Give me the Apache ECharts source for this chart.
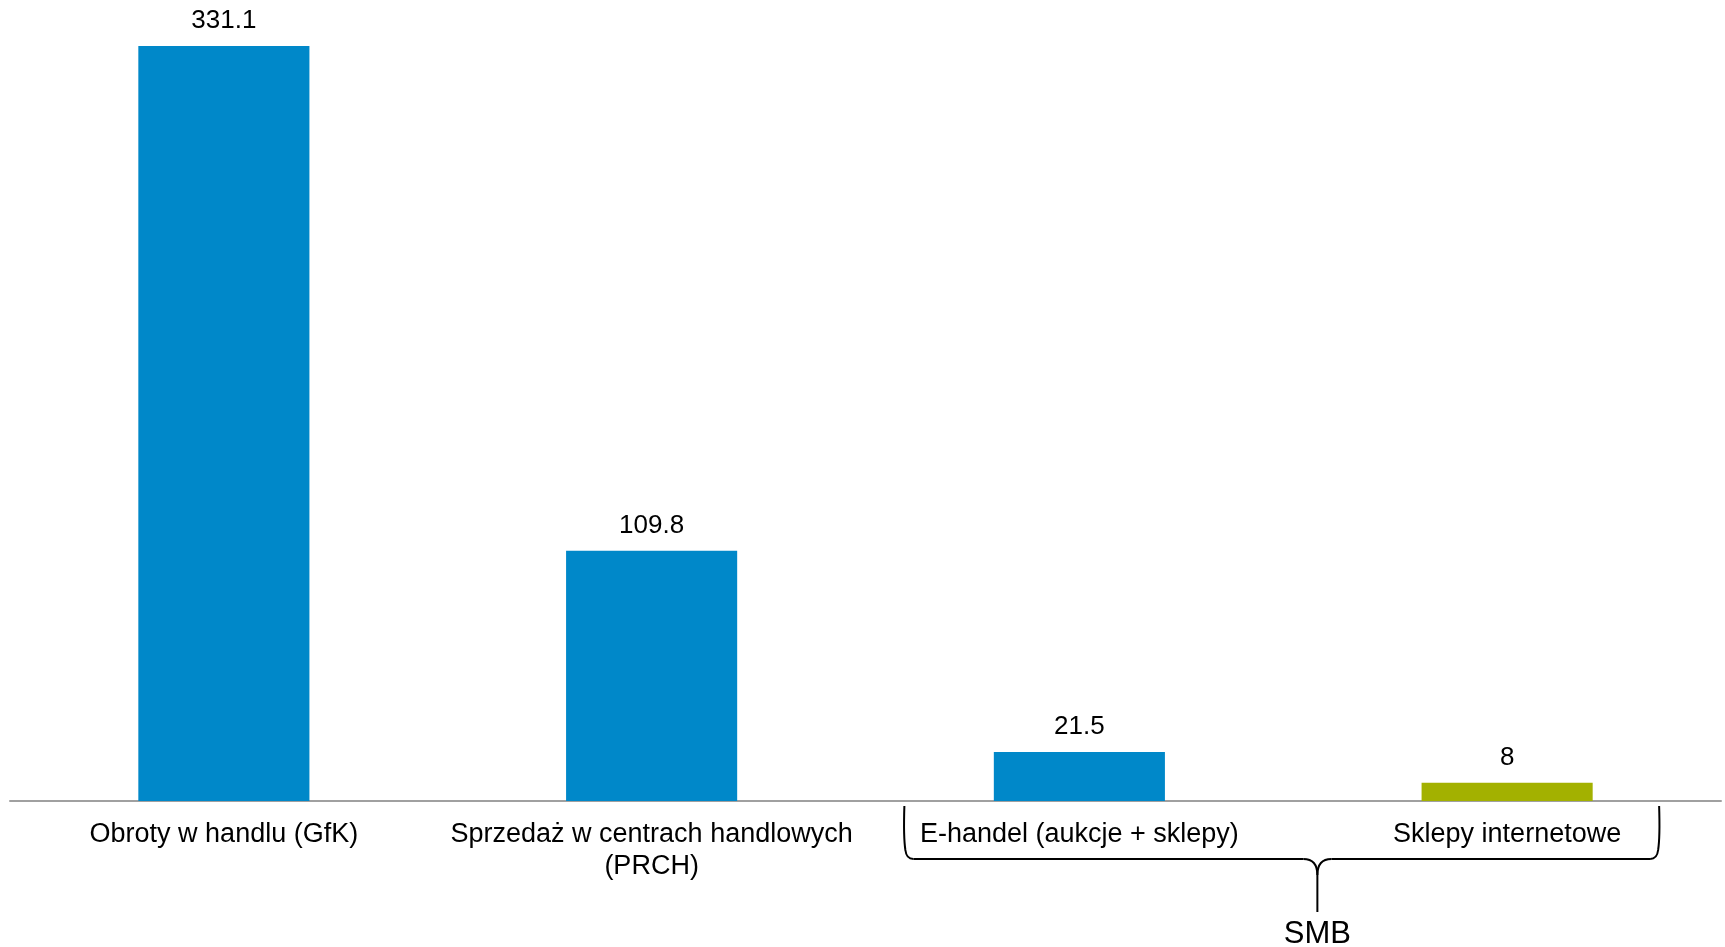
<!DOCTYPE html>
<html>
<head>
<meta charset="utf-8">
<script src="https://cdn.jsdelivr.net/npm/echarts@6/dist/echarts.min.js"></script>
<style>
html,body{margin:0;padding:0;background:#fff;}
#chart{width:1725px;height:947px;}
</style>
</head>
<body>
<div id="chart"></div>
<script>
const categories = ['Obroty w handlu (GfK)', 'Sprzedaż w centrach handlowych\n(PRCH)', 'E-handel (aukcje + sklepy)', 'Sklepy internetowe'];
const values = [331.1, 109.8, 21.5, 8];
const barColors = ['#0088c9', '#0088c9', '#0088c9', '#a3b100'];
const groupLabel = 'SMB';
const groupStart = 2; // index of first grouped category
const groupEnd = 3;   // index of last grouped category

const FONT = '"Liberation Sans", Arial, sans-serif';
const chart = echarts.init(document.getElementById('chart'), null, {renderer: 'canvas'});

const option = {
  backgroundColor: '#ffffff',
  animation: false,
  grid: {left: 10, right: 4, top: 46, bottom: 146, containLabel: false},
  xAxis: {
    type: 'category',
    data: categories,
    axisTick: {show: false},
    axisLine: {lineStyle: {color: '#a0a0a0', width: 2}},
    axisLabel: {
      interval: 0,
      fontSize: 27,
      lineHeight: 32,
      margin: 18,
      color: '#000000',
      fontFamily: FONT
    }
  },
  yAxis: {
    type: 'value',
    min: 0,
    max: 'dataMax',
    show: false,
    splitLine: {show: false}
  },
  series: [{
    type: 'bar',
    data: values.map((v, i) => ({value: v, itemStyle: {color: barColors[i]}})),
    barWidth: '40%',
    label: {
      show: true,
      position: 'top',
      distance: 12,
      fontSize: 26,
      color: '#000000',
      fontFamily: FONT
    }
  }]
};
chart.setOption(option);

function drawBracket() {
  const xA = chart.convertToPixel({xAxisIndex: 0}, groupStart);
  const xB = chart.convertToPixel({xAxisIndex: 0}, groupEnd);
  const y0 = chart.convertToPixel({yAxisIndex: 0}, 0);
  const L = xA - 175, R = xB + 152, M = xA + 238;
  const yt = y0 + 5, yh = y0 + 58, ytip = y0 + 111, r = 9;
  const st = {stroke: '#000000', lineWidth: 2, fill: null};
  const curve = (x1, y1, cx, cy, x2, y2) => ({type: 'bezierCurve', shape: {x1, y1, x2, y2, cpx1: cx, cpy1: cy}, style: st});
  const line = (x1, y1, x2, y2) => ({type: 'line', shape: {x1, y1, x2, y2}, style: st});
  const els = [
    curve(L, yt, L - 1, yh - 22, L + 1, yh - r),
    curve(L + 1, yh - r, L + 2, yh, L + r, yh),
    line(L + r, yh, M - 14, yh),
    curve(M - 14, yh, M, yh, M, yh + 16),
    line(M, yh + 16, M, ytip),
    curve(M + 14, yh, M, yh, M, yh + 16),
    line(M + 14, yh, R - r, yh),
    curve(R - r, yh, R - 2, yh, R - 1, yh - r),
    curve(R - 1, yh - r, R + 1, yh - 22, R, yt),
    {
      type: 'text',
      x: M,
      y: y0 + 133,
      style: {
        text: groupLabel,
        fontSize: 31,
        fontFamily: FONT,
        fill: '#000000',
        textAlign: 'center',
        textVerticalAlign: 'middle'
      }
    }
  ];
  chart.setOption({graphic: els});
}
drawBracket();
</script>
</body>
</html>
